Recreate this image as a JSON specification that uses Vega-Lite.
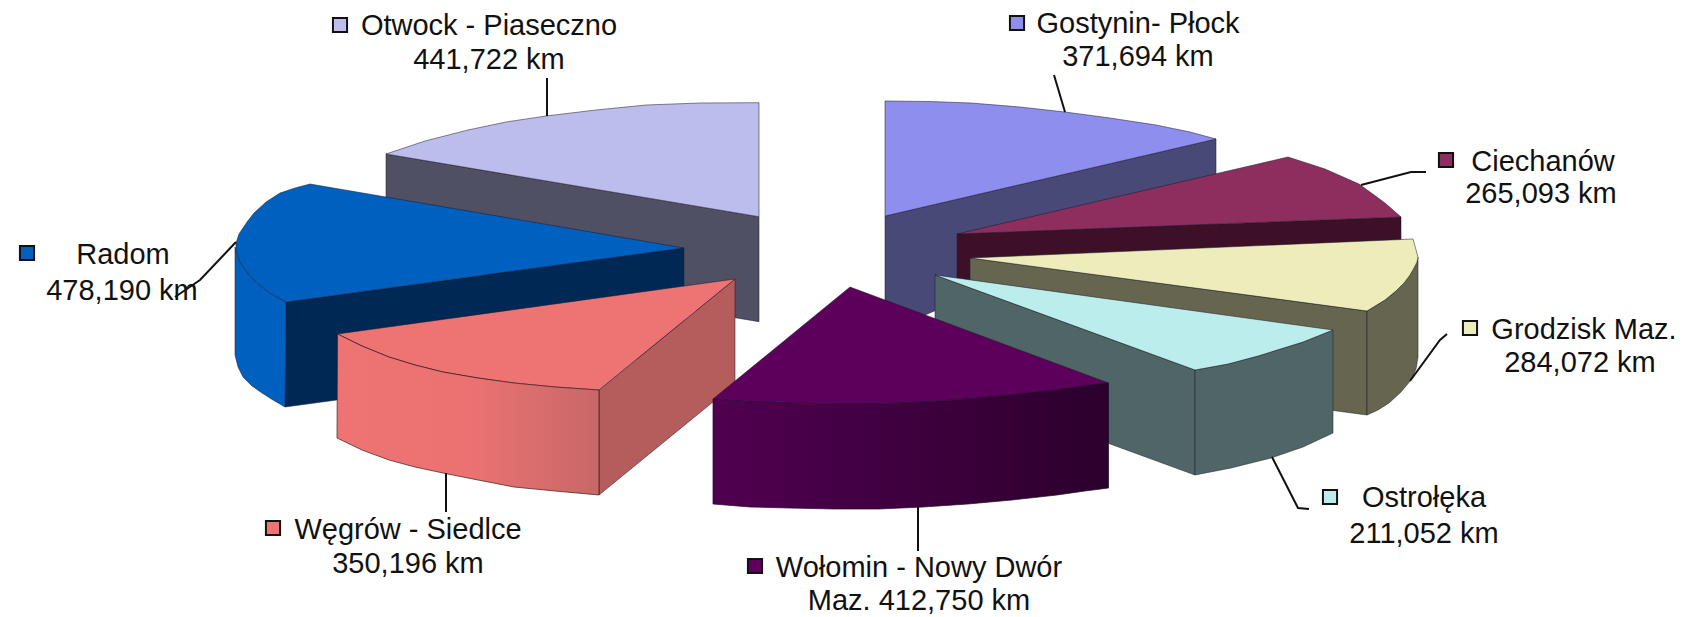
{"$schema":"https://vega.github.io/schema/vega-lite/v6.json","width":1684,"height":617,"padding":0,"autosize":{"type":"fit","contains":"padding"},"background":"white","view":{"stroke":null},
"encoding":{"x":{"field":"x","type":"quantitative","scale":{"domain":[0,1684],"nice":false,"zero":false},"axis":null},"y":{"field":"y","type":"quantitative","scale":{"domain":[617,0],"nice":false,"zero":false},"axis":null}},
"datasets":{
"faces":[
{"face":"Otwock wall","vertex":1,"x":386,"y":154},{"face":"Otwock wall","vertex":2,"x":759,"y":216.7},{"face":"Otwock wall","vertex":3,"x":759,"y":321.7},{"face":"Otwock wall","vertex":4,"x":386,"y":259},{"face":"Otwock wall","vertex":5,"x":386,"y":154},
{"face":"Otwock top","vertex":1,"x":386,"y":154},{"face":"Otwock top","vertex":2,"x":425,"y":141},{"face":"Otwock top","vertex":3,"x":468,"y":130},{"face":"Otwock top","vertex":4,"x":506,"y":122},{"face":"Otwock top","vertex":5,"x":546,"y":116},{"face":"Otwock top","vertex":6,"x":596,"y":110},{"face":"Otwock top","vertex":7,"x":646,"y":105},{"face":"Otwock top","vertex":8,"x":700,"y":103},{"face":"Otwock top","vertex":9,"x":759,"y":102.7},{"face":"Otwock top","vertex":10,"x":759,"y":216.7},{"face":"Otwock top","vertex":11,"x":386,"y":154},
{"face":"Gostynin wall","vertex":1,"x":885,"y":216},{"face":"Gostynin wall","vertex":2,"x":1216,"y":139},{"face":"Gostynin wall","vertex":3,"x":1216,"y":244},{"face":"Gostynin wall","vertex":4,"x":960,"y":300},{"face":"Gostynin wall","vertex":5,"x":925,"y":315},{"face":"Gostynin wall","vertex":6,"x":885,"y":303},{"face":"Gostynin wall","vertex":7,"x":885,"y":216},
{"face":"Gostynin top","vertex":1,"x":885,"y":216},{"face":"Gostynin top","vertex":2,"x":885,"y":101},{"face":"Gostynin top","vertex":3,"x":930,"y":101.5},{"face":"Gostynin top","vertex":4,"x":971,"y":103},{"face":"Gostynin top","vertex":5,"x":1020,"y":107},{"face":"Gostynin top","vertex":6,"x":1065,"y":112},{"face":"Gostynin top","vertex":7,"x":1110,"y":118},{"face":"Gostynin top","vertex":8,"x":1156,"y":125},{"face":"Gostynin top","vertex":9,"x":1190,"y":132},{"face":"Gostynin top","vertex":10,"x":1216,"y":139},{"face":"Gostynin top","vertex":11,"x":885,"y":216},
{"face":"Radom wall","vertex":1,"x":286,"y":302},{"face":"Radom wall","vertex":2,"x":684,"y":248},{"face":"Radom wall","vertex":3,"x":684,"y":353},{"face":"Radom wall","vertex":4,"x":285,"y":407},{"face":"Radom wall","vertex":5,"x":286,"y":302},
{"face":"Radom outer","vertex":1,"x":235,"y":247},{"face":"Radom outer","vertex":2,"x":236,"y":250},{"face":"Radom outer","vertex":3,"x":240,"y":262},{"face":"Radom outer","vertex":4,"x":247,"y":272},{"face":"Radom outer","vertex":5,"x":254,"y":280},{"face":"Radom outer","vertex":6,"x":262,"y":287},{"face":"Radom outer","vertex":7,"x":270,"y":293},{"face":"Radom outer","vertex":8,"x":286,"y":302},{"face":"Radom outer","vertex":9,"x":285,"y":407},{"face":"Radom outer","vertex":10,"x":273,"y":400},{"face":"Radom outer","vertex":11,"x":262,"y":393},{"face":"Radom outer","vertex":12,"x":252,"y":386},{"face":"Radom outer","vertex":13,"x":243,"y":377},{"face":"Radom outer","vertex":14,"x":238,"y":367},{"face":"Radom outer","vertex":15,"x":235,"y":355},{"face":"Radom outer","vertex":16,"x":235,"y":247},
{"face":"Radom top","vertex":1,"x":310,"y":184},{"face":"Radom top","vertex":2,"x":684,"y":248},{"face":"Radom top","vertex":3,"x":286,"y":302},{"face":"Radom top","vertex":4,"x":270,"y":293},{"face":"Radom top","vertex":5,"x":262,"y":287},{"face":"Radom top","vertex":6,"x":254,"y":280},{"face":"Radom top","vertex":7,"x":247,"y":272},{"face":"Radom top","vertex":8,"x":240,"y":262},{"face":"Radom top","vertex":9,"x":236,"y":250},{"face":"Radom top","vertex":10,"x":236,"y":243},{"face":"Radom top","vertex":11,"x":239,"y":234},{"face":"Radom top","vertex":12,"x":247,"y":222},{"face":"Radom top","vertex":13,"x":254,"y":213},{"face":"Radom top","vertex":14,"x":266,"y":202},{"face":"Radom top","vertex":15,"x":280,"y":193},{"face":"Radom top","vertex":16,"x":295,"y":188},{"face":"Radom top","vertex":17,"x":310,"y":184},
{"face":"Ciechanów wall","vertex":1,"x":957,"y":234},{"face":"Ciechanów wall","vertex":2,"x":1401,"y":217},{"face":"Ciechanów wall","vertex":3,"x":1401,"y":322},{"face":"Ciechanów wall","vertex":4,"x":957,"y":339},{"face":"Ciechanów wall","vertex":5,"x":957,"y":234},
{"face":"Ciechanów top","vertex":1,"x":957,"y":234},{"face":"Ciechanów top","vertex":2,"x":1288,"y":157},{"face":"Ciechanów top","vertex":3,"x":1325,"y":169},{"face":"Ciechanów top","vertex":4,"x":1359,"y":184},{"face":"Ciechanów top","vertex":5,"x":1385,"y":203},{"face":"Ciechanów top","vertex":6,"x":1401,"y":217},{"face":"Ciechanów top","vertex":7,"x":957,"y":234},
{"face":"Grodzisk wall","vertex":1,"x":970,"y":258},{"face":"Grodzisk wall","vertex":2,"x":1367,"y":311},{"face":"Grodzisk wall","vertex":3,"x":1367,"y":415},{"face":"Grodzisk wall","vertex":4,"x":970,"y":362},{"face":"Grodzisk wall","vertex":5,"x":970,"y":258},
{"face":"Grodzisk outer","vertex":1,"x":1367,"y":311},{"face":"Grodzisk outer","vertex":2,"x":1385,"y":300},{"face":"Grodzisk outer","vertex":3,"x":1396,"y":291},{"face":"Grodzisk outer","vertex":4,"x":1404,"y":283},{"face":"Grodzisk outer","vertex":5,"x":1410,"y":275},{"face":"Grodzisk outer","vertex":6,"x":1414,"y":268},{"face":"Grodzisk outer","vertex":7,"x":1417,"y":262},{"face":"Grodzisk outer","vertex":8,"x":1418,"y":257},{"face":"Grodzisk outer","vertex":9,"x":1418,"y":357},{"face":"Grodzisk outer","vertex":10,"x":1416,"y":369},{"face":"Grodzisk outer","vertex":11,"x":1411,"y":380},{"face":"Grodzisk outer","vertex":12,"x":1401,"y":392},{"face":"Grodzisk outer","vertex":13,"x":1389,"y":403},{"face":"Grodzisk outer","vertex":14,"x":1378,"y":410},{"face":"Grodzisk outer","vertex":15,"x":1367,"y":415},{"face":"Grodzisk outer","vertex":16,"x":1367,"y":311},
{"face":"Grodzisk top","vertex":1,"x":970,"y":258},{"face":"Grodzisk top","vertex":2,"x":1413,"y":239},{"face":"Grodzisk top","vertex":3,"x":1418,"y":257},{"face":"Grodzisk top","vertex":4,"x":1417,"y":262},{"face":"Grodzisk top","vertex":5,"x":1414,"y":268},{"face":"Grodzisk top","vertex":6,"x":1410,"y":275},{"face":"Grodzisk top","vertex":7,"x":1404,"y":283},{"face":"Grodzisk top","vertex":8,"x":1396,"y":291},{"face":"Grodzisk top","vertex":9,"x":1385,"y":300},{"face":"Grodzisk top","vertex":10,"x":1367,"y":311},{"face":"Grodzisk top","vertex":11,"x":970,"y":258},
{"face":"Ostrołęka wall","vertex":1,"x":935,"y":275},{"face":"Ostrołęka wall","vertex":2,"x":1195,"y":370},{"face":"Ostrołęka wall","vertex":3,"x":1195,"y":475},{"face":"Ostrołęka wall","vertex":4,"x":935,"y":380},{"face":"Ostrołęka wall","vertex":5,"x":935,"y":275},
{"face":"Ostrołęka outer","vertex":1,"x":1195,"y":370},{"face":"Ostrołęka outer","vertex":2,"x":1228,"y":364},{"face":"Ostrołęka outer","vertex":3,"x":1258,"y":356},{"face":"Ostrołęka outer","vertex":4,"x":1303,"y":342},{"face":"Ostrołęka outer","vertex":5,"x":1333,"y":330},{"face":"Ostrołęka outer","vertex":6,"x":1333,"y":433},{"face":"Ostrołęka outer","vertex":7,"x":1303,"y":447},{"face":"Ostrołęka outer","vertex":8,"x":1271,"y":458},{"face":"Ostrołęka outer","vertex":9,"x":1231,"y":468},{"face":"Ostrołęka outer","vertex":10,"x":1195,"y":475},{"face":"Ostrołęka outer","vertex":11,"x":1195,"y":370},
{"face":"Ostrołęka top","vertex":1,"x":935,"y":275},{"face":"Ostrołęka top","vertex":2,"x":1333,"y":330},{"face":"Ostrołęka top","vertex":3,"x":1303,"y":342},{"face":"Ostrołęka top","vertex":4,"x":1258,"y":356},{"face":"Ostrołęka top","vertex":5,"x":1228,"y":364},{"face":"Ostrołęka top","vertex":6,"x":1195,"y":370},{"face":"Ostrołęka top","vertex":7,"x":935,"y":275},
{"face":"Węgrów side","vertex":1,"x":735,"y":279},{"face":"Węgrów side","vertex":2,"x":735,"y":384},{"face":"Węgrów side","vertex":3,"x":599,"y":495},{"face":"Węgrów side","vertex":4,"x":599,"y":390},{"face":"Węgrów side","vertex":5,"x":735,"y":279},
{"face":"Węgrów top","vertex":1,"x":735,"y":279},{"face":"Węgrów top","vertex":2,"x":599,"y":390},{"face":"Węgrów top","vertex":3,"x":555,"y":387},{"face":"Węgrów top","vertex":4,"x":514,"y":383},{"face":"Węgrów top","vertex":5,"x":478,"y":378},{"face":"Węgrów top","vertex":6,"x":443,"y":372},{"face":"Węgrów top","vertex":7,"x":415,"y":365},{"face":"Węgrów top","vertex":8,"x":389,"y":357},{"face":"Węgrów top","vertex":9,"x":362,"y":346},{"face":"Węgrów top","vertex":10,"x":337.5,"y":334},{"face":"Węgrów top","vertex":11,"x":735,"y":279},
{"face":"Wołomin top","vertex":1,"x":850,"y":287},{"face":"Wołomin top","vertex":2,"x":1108.5,"y":383},{"face":"Wołomin top","vertex":3,"x":1085,"y":386},{"face":"Wołomin top","vertex":4,"x":1057,"y":390},{"face":"Wołomin top","vertex":5,"x":1012,"y":395},{"face":"Wołomin top","vertex":6,"x":968,"y":399},{"face":"Wołomin top","vertex":7,"x":923,"y":402},{"face":"Wołomin top","vertex":8,"x":879,"y":404},{"face":"Wołomin top","vertex":9,"x":834,"y":404},{"face":"Wołomin top","vertex":10,"x":789,"y":403},{"face":"Wołomin top","vertex":11,"x":750,"y":402},{"face":"Wołomin top","vertex":12,"x":713,"y":399},{"face":"Wołomin top","vertex":13,"x":850,"y":287}
],
"front1":[
{"vertex":1,"x":337.5,"y":334},{"vertex":2,"x":362,"y":346},{"vertex":3,"x":389,"y":357},{"vertex":4,"x":415,"y":365},{"vertex":5,"x":443,"y":372},{"vertex":6,"x":478,"y":378},{"vertex":7,"x":514,"y":383},{"vertex":8,"x":555,"y":387},{"vertex":9,"x":599,"y":390},{"vertex":10,"x":599,"y":495},{"vertex":11,"x":555,"y":491},{"vertex":12,"x":514,"y":487},{"vertex":13,"x":478,"y":480},{"vertex":14,"x":443,"y":473},{"vertex":15,"x":415,"y":467},{"vertex":16,"x":389,"y":460},{"vertex":17,"x":362,"y":450},{"vertex":18,"x":337,"y":438},{"vertex":19,"x":337.5,"y":334}
],
"front2":[
{"vertex":1,"x":713,"y":399},{"vertex":2,"x":750,"y":402},{"vertex":3,"x":789,"y":403},{"vertex":4,"x":834,"y":404},{"vertex":5,"x":879,"y":404},{"vertex":6,"x":923,"y":402},{"vertex":7,"x":968,"y":399},{"vertex":8,"x":1012,"y":395},{"vertex":9,"x":1057,"y":390},{"vertex":10,"x":1085,"y":386},{"vertex":11,"x":1108.5,"y":383},{"vertex":12,"x":1108.5,"y":488},{"vertex":13,"x":1085,"y":491},{"vertex":14,"x":1057,"y":495},{"vertex":15,"x":1012,"y":500},{"vertex":16,"x":968,"y":504},{"vertex":17,"x":923,"y":507},{"vertex":18,"x":879,"y":509},{"vertex":19,"x":834,"y":509},{"vertex":20,"x":789,"y":508},{"vertex":21,"x":750,"y":507},{"vertex":22,"x":713,"y":504},{"vertex":23,"x":713,"y":399}
],
"leaders":[
{"name":"Otwock","vertex":1,"x":547,"y":78},{"name":"Otwock","vertex":2,"x":547,"y":116},
{"name":"Gostynin","vertex":1,"x":1054,"y":75},{"name":"Gostynin","vertex":2,"x":1065,"y":112},
{"name":"Ciechanów","vertex":1,"x":1361,"y":185},{"name":"Ciechanów","vertex":2,"x":1411,"y":172},{"name":"Ciechanów","vertex":3,"x":1426,"y":172},
{"name":"Grodzisk","vertex":1,"x":1410,"y":381},{"name":"Grodzisk","vertex":2,"x":1440,"y":340},{"name":"Grodzisk","vertex":3,"x":1447,"y":334},
{"name":"Ostrołęka","vertex":1,"x":1272,"y":457},{"name":"Ostrołęka","vertex":2,"x":1298,"y":508},{"name":"Ostrołęka","vertex":3,"x":1309,"y":509},
{"name":"Wołomin","vertex":1,"x":918,"y":507},{"name":"Wołomin","vertex":2,"x":918,"y":551},
{"name":"Węgrów","vertex":1,"x":446,"y":473},{"name":"Węgrów","vertex":2,"x":446,"y":512},
{"name":"Radom","vertex":1,"x":236,"y":242},{"name":"Radom","vertex":2,"x":200,"y":280},{"name":"Radom","vertex":3,"x":175,"y":297}
],
"labels":[
{"text":"Otwock - Piaseczno","x":489,"y":26},{"text":"441,722 km","x":489,"y":60},
{"text":"Gostynin- Płock","x":1138,"y":24},{"text":"371,694 km","x":1138,"y":57},
{"text":"Ciechanów","x":1543,"y":162},{"text":"265,093 km","x":1541,"y":194},
{"text":"Grodzisk Maz.","x":1584,"y":330},{"text":"284,072 km","x":1580,"y":363},
{"text":"Ostrołęka","x":1424,"y":498},{"text":"211,052 km","x":1424,"y":534},
{"text":"Wołomin - Nowy Dwór","x":919,"y":568},{"text":"Maz. 412,750 km","x":919,"y":601},
{"text":"Węgrów - Siedlce","x":408,"y":530},{"text":"350,196 km","x":408,"y":564},
{"text":"Radom","x":123,"y":255},{"text":"478,190 km","x":122,"y":291}
],
"swatches":[
{"name":"Otwock - Piaseczno","x":340,"y":25},{"name":"Gostynin- Płock","x":1017,"y":23},{"name":"Ciechanów","x":1446,"y":160},{"name":"Grodzisk Maz.","x":1470,"y":328},{"name":"Ostrołęka","x":1330,"y":497},{"name":"Wołomin - Nowy Dwór","x":755,"y":566},{"name":"Węgrów - Siedlce","x":273,"y":528},{"name":"Radom","x":27,"y":253}
]},
"layer":[
{"data":{"name":"faces"},
"mark":{"type":"line","filled":true,"stroke":"#1a1a2a","strokeWidth":0.7,"strokeOpacity":0.75},
"encoding":{"order":{"field":"vertex"},
"color":{"field":"face","type":"nominal","legend":null,"sort":null,"scale":{"domain":["Otwock wall","Otwock top","Gostynin wall","Gostynin top","Radom wall","Radom outer","Radom top","Ciechanów wall","Ciechanów top","Grodzisk wall","Grodzisk outer","Grodzisk top","Ostrołęka wall","Ostrołęka outer","Ostrołęka top","Węgrów side","Węgrów top","Wołomin top"],"range":["#505064","#BDBDED","#494978","#8E8EEE","#002855","#0060BF","#0060BF","#3E1028","#8E2E5E","#666650","#666650","#EDEDBC","#506666","#506666","#BCEDED","#B55C5C","#EE7474","#5C005C"]}}}},
{"data":{"name":"front1"},
"mark":{"type":"line","strokeWidth":0.7,"stroke":"#3a1a1a","fill":{"gradient":"linear","x1":0,"y1":0,"x2":1,"y2":0,"stops":[{"offset":0,"color":"#EE7474"},{"offset":0.5,"color":"#EC7272"},{"offset":1,"color":"#C86868"}]}},
"encoding":{"order":{"field":"vertex"}}},
{"data":{"name":"front2"},
"mark":{"type":"line","strokeWidth":0.7,"stroke":"#1a0a2a","fill":{"gradient":"linear","x1":0,"y1":0,"x2":1,"y2":0,"stops":[{"offset":0,"color":"#500050"},{"offset":1,"color":"#2C002C"}]}},
"encoding":{"order":{"field":"vertex"}}},
{"data":{"name":"leaders"},
"mark":{"type":"line","stroke":"#111111","strokeWidth":2},
"encoding":{"detail":{"field":"name"},"order":{"field":"vertex"}}},
{"data":{"name":"swatches"},
"mark":{"type":"square","stroke":"#111111","strokeWidth":2,"size":200,"opacity":1},
"encoding":{"fill":{"field":"name","type":"nominal","legend":null,"scale":{"domain":["Otwock - Piaseczno","Gostynin- Płock","Ciechanów","Grodzisk Maz.","Ostrołęka","Wołomin - Nowy Dwór","Węgrów - Siedlce","Radom"],"range":["#BDBDED","#8E8EEE","#8E2E5E","#EDEDBC","#BCEDED","#5C005C","#EE7474","#0060BF"]}}}},
{"data":{"name":"labels"},
"mark":{"type":"text","font":"Liberation Sans","fontSize":29,"color":"#111111","align":"center","baseline":"middle"},
"encoding":{"text":{"field":"text"}}}
]}
